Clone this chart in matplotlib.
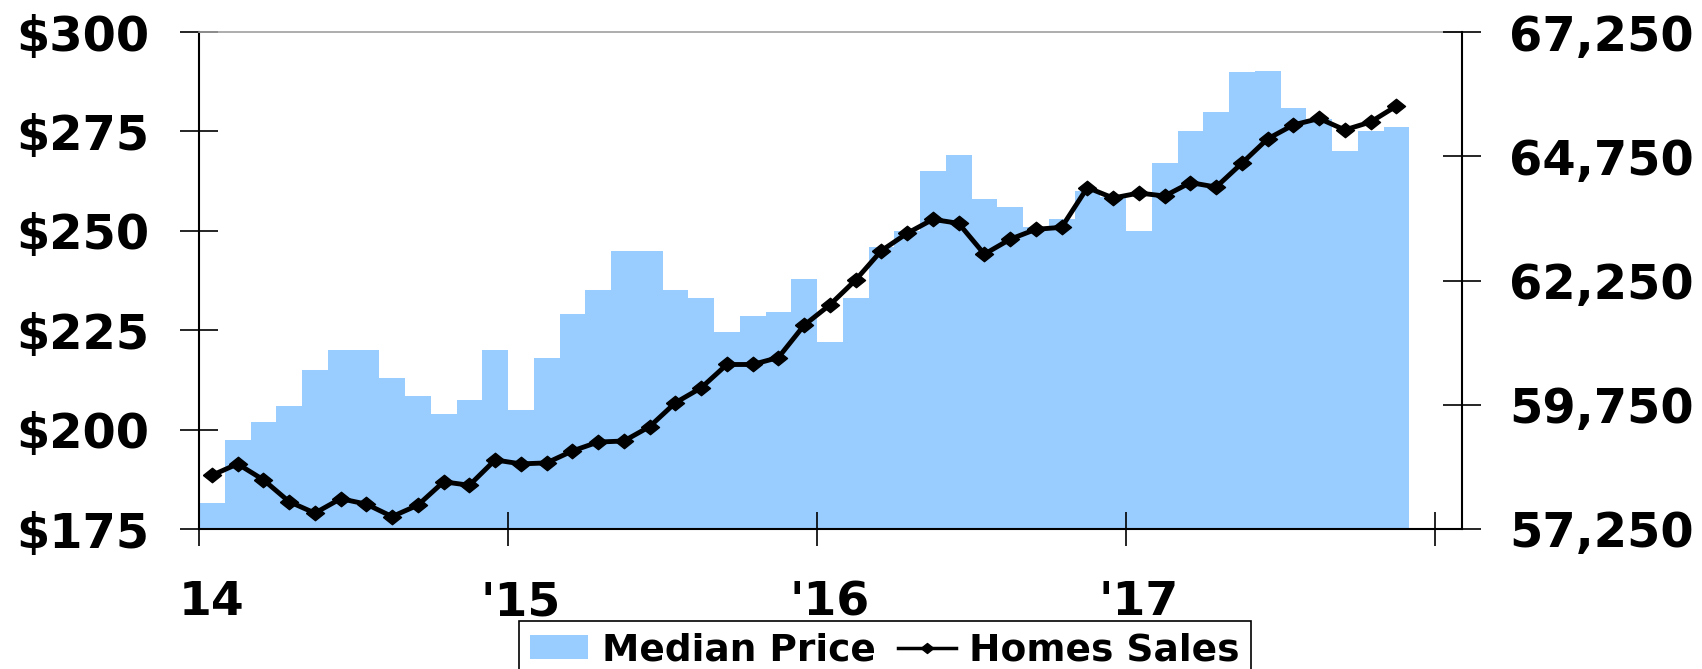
import matplotlib
matplotlib.use("Agg")
import matplotlib.pyplot as plt
from matplotlib.patches import Patch
from matplotlib.lines import Line2D
import numpy as np

# monthly data, Jan 2014 .. Nov 2017
median_price = [181.5, 197.5, 202, 206, 215, 220, 220, 213, 208.5, 204,
                207.5, 220, 205, 218, 229, 235, 245, 245, 235, 233,
                224.5, 228.5, 229.5, 238, 222, 233, 246, 250, 265, 269,
                258, 256, 251, 253, 260, 258.5, 250, 267, 275, 280,
                290, 290.3, 281, 278, 270, 275, 276]
home_sales = [58330, 58560, 58240, 57800, 57570, 57860, 57750, 57500, 57730, 58200,
              58130, 58640, 58560, 58580, 58820, 59000, 59020, 59310, 59790, 60090,
              60560, 60560, 60700, 61350, 61760, 62260, 62850, 63200, 63480, 63400,
              62780, 63080, 63280, 63320, 64120, 63910, 64010, 63950, 64220, 64130,
              64610, 65100, 65380, 65510, 65280, 65440, 65760]
year_labels = ["14", "'15", "'16", "'17"]
price_ticks = [175, 200, 225, 250, 275, 300]
sales_ticks = [57250, 59750, 62250, 64750, 67250]

plt.rcParams["font.family"] = "DejaVu Sans"
plt.rcParams["font.weight"] = "bold"

BLUE = "#99CCFF"
W, H, DPI = 1702, 669, 100
# slightly flattened diamond, like the Excel marker
DIAMOND = [(-1, 0), (0, 0.8), (1, 0), (0, -0.8), (-1, 0)]

fig = plt.figure(figsize=(W / DPI, H / DPI), dpi=DPI)
ax = fig.add_axes([199 / W, 1 - 529 / H, (1462 - 199) / W, (529 - 32) / H])

months = np.arange(len(median_price)) + 0.5
ax.bar(months, np.array(median_price) - 175, bottom=175, width=1.0,
       color=BLUE, linewidth=0)
ax.set_ylim(175, 300)
ax.set_xlim(0, (1462 - 199) / 25.75)

ax.set_yticks(price_ticks)
ax.set_yticklabels([f"${v}" for v in price_ticks])
ax.tick_params(axis="y", direction="inout", length=28, width=1.2,
               labelsize=34.5, pad=22)

ax.set_xticks([0, 12, 24, 36, 48])
ax.set_xticklabels([])
ax.set_xticks([0.5, 12.5, 24.5, 36.5], minor=True)
ax.set_xticklabels(year_labels, minor=True)
ax.tick_params(axis="x", which="major", direction="inout", length=24, width=1.2)
ax.tick_params(axis="x", which="minor", length=0, labelsize=34, pad=37)

ax.spines["right"].set_visible(False)
ax.spines["top"].set_color("#a0a0a0")
ax.spines["top"].set_linewidth(1.2)
ax.spines["left"].set_linewidth(1.5)
ax.spines["bottom"].set_linewidth(1.5)

ax2 = ax.twinx()
ax2.plot(months, home_sales, color="black", linewidth=3.5, marker=DIAMOND,
         markersize=13)
ax2.set_ylim(57250, 67250)
ax2.set_yticks(sales_ticks)
ax2.set_yticklabels([f"{v:,}" for v in sales_ticks])
ax2.tick_params(axis="y", direction="inout", length=28, width=1.2,
                labelsize=34.5, pad=20)
for side in ["left", "top", "bottom"]:
    ax2.spines[side].set_visible(False)
ax2.spines["right"].set_linewidth(1.5)

handles = [Patch(facecolor=BLUE, edgecolor="none"),
           Line2D([], [], color="black", linewidth=2.5, marker=DIAMOND,
                  markersize=9)]
leg = fig.legend(handles, ["Median Price", "Homes Sales"], ncol=2,
                 loc="upper left", bbox_to_anchor=(519 / W, 1 - 621 / H),
                 fontsize=27, frameon=True, fancybox=False, framealpha=1,
                 edgecolor="black", borderpad=0.3, handlelength=1.55,
                 handleheight=0.6, handletextpad=0.35, columnspacing=0.6,
                 borderaxespad=0)
leg.get_frame().set_linewidth(1.2)

fig.savefig("out.png", dpi=DPI)
